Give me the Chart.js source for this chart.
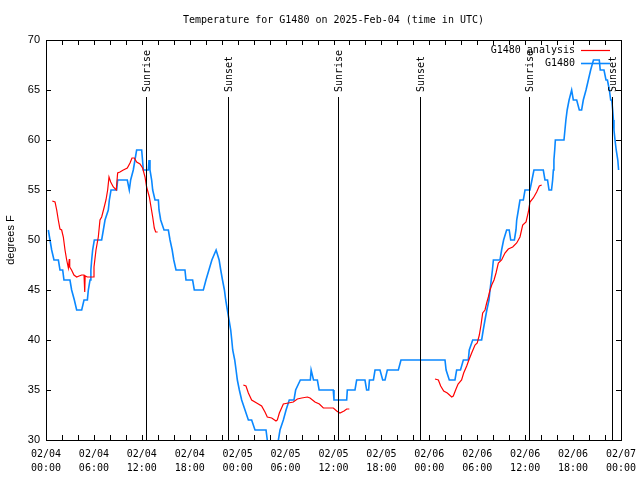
<!DOCTYPE html>
<html>
<head>
<meta charset="utf-8">
<title>Temperature for G1480</title>
<script src="https://cdn.jsdelivr.net/npm/chart.js@4/dist/chart.umd.min.js"></script>
<style>
  html, body { margin: 0; padding: 0; background: #fff; }
  #wrap { width: 640px; height: 480px; }
</style>
</head>
<body>
<div id="wrap"><canvas id="tempChart"></canvas></div>
<script>
// --- Data (hours since 2025-02-04 00:00 UTC) ---
const blueHours = [0.29, 0.5, 0.71, 1.0, 1.55, 1.75, 2.09, 2.25, 3.0, 3.21, 3.55, 3.84, 4.47, 4.76, 5.18, 5.3, 5.51, 5.62, 5.72, 5.84, 6.05,
  6.97, 7.18, 7.39, 7.8, 7.93, 8.14, 8.85, 8.97, 10.18, 10.43, 10.6, 10.93, 11.14, 11.35, 11.98, 12.19, 12.81, 12.9, 13.02, 13.23,
  13.36, 13.65, 14.07, 14.15, 14.36, 14.78, 15.32, 15.53, 15.8, 16.0, 16.28, 17.4, 17.53, 18.36, 18.57, 19.7, 20.03, 20.4, 20.77,
  21.3, 21.68, 21.88, 22.1, 22.34, 22.5, 22.71, 22.92, 23.13, 23.26, 23.38, 23.63, 23.8, 23.96, 24.21, 24.5, 24.92, 25.34, 25.75,
  26.17, 27.55, 27.71, 27.9, 28.9, 29.1, 29.3, 29.72, 30.06, 30.46, 31.05, 31.26, 31.85, 33.1, 33.2, 33.5, 33.98, 34.2, 35.97,
  36.06, 37.65, 37.73, 38.69, 38.9, 39.94, 40.15, 40.4, 40.5, 41.0, 41.2, 41.82, 42.16, 42.45, 42.74, 44.12, 44.45, 49.96, 50.1,
  50.5, 51.21, 51.42, 51.9, 52.26, 52.88, 53.0, 53.43, 54.55, 54.75, 54.97, 55.2, 55.47, 55.6, 55.75, 55.9, 56.02, 56.85, 57.05,
  57.3, 57.68, 58.0, 58.19, 58.65, 58.85, 58.94, 59.15, 59.35, 59.77, 59.98, 60.6, 60.85, 61.1, 62.27, 62.48, 62.8, 62.99, 63.3,
  63.44, 63.53, 63.6, 63.7, 63.78, 64.86, 65.1, 65.26, 65.5, 65.82, 66.03, 66.45, 66.78, 67.07, 67.28, 67.62, 67.91, 68.2, 68.55,
  69.28, 69.4, 69.87, 70.12, 70.3, 70.54, 70.71, 70.84, 70.96, 71.05, 71.12, 71.25, 71.4, 71.6, 71.7];
const blueTemps = [51, 50, 49, 48, 48, 47, 47, 46, 46, 45, 44, 43, 43, 44, 44, 45, 46, 47, 48, 49, 50,
  50, 51, 52, 53, 54, 55, 55, 56, 56, 55, 56, 57, 58, 59, 59, 57, 57, 58, 57, 56,
  55, 54, 54, 53, 52, 51, 51, 50, 49, 48, 47, 47, 46, 46, 45, 45, 46, 47, 48,
  49, 48, 47, 46, 45, 44, 43, 42, 41, 40, 39, 38, 37, 36, 35, 34, 33, 32, 32,
  31, 31, 30, 29, 29, 30, 31, 32, 33, 34, 34, 35, 36, 36, 37, 36, 36, 35, 35,
  34, 34, 35, 35, 36, 36, 35, 35, 36, 36, 37, 37, 36, 36, 37, 37, 38, 38, 37,
  36, 36, 37, 37, 38, 38, 39, 40, 40, 41, 42, 43, 44, 45, 46, 47, 48, 48, 49,
  50, 51, 51, 50, 50, 51, 52, 53, 54, 54, 55, 55, 56, 57, 57, 56, 56, 55, 55,
  56, 57, 58, 59, 60, 60, 62, 63, 64, 65, 64, 64, 63, 63, 64, 65, 66, 67, 68,
  68, 67, 67, 66, 66, 65, 64, 64, 63, 62, 61, 60, 59, 58, 57];

// analysis series, null = gap between runs
const redHours = [0.79, 1.13, 1.34, 1.54, 1.75, 1.96, 2.17, 2.38, 2.59, 2.8, 2.92, 2.97, 3.2, 3.5, 3.84, 4.15, 4.47, 4.76, 4.85,
  4.9, 5.18, 5.59, 5.93, 6.01, 6.26, 6.55, 6.76, 6.97, 7.26, 7.51, 7.72, 7.89, 8.1, 8.43, 8.8, 8.97, 9.26, 9.68, 10.18, 10.52,
  10.77, 11.06, 11.35, 11.77, 12.1, 12.4, 12.6, 12.94, 13.15, 13.36, 13.56, 13.73, 13.98,
  20,
  24.71, 25.04, 25.34, 25.75, 26.38, 27.0, 27.42, 27.71, 28.26, 28.8, 28.97, 29.22, 29.72, 30.35, 30.97, 31.47, 32.02, 32.73,
  33.06, 33.68, 34.23, 34.73, 35.35, 35.98, 36.4, 36.81, 37.32, 37.65, 37.98,
  43,
  48.71, 49.13, 49.42, 49.8, 50.25, 50.8, 51.0, 51.34, 51.6, 52.04, 52.3, 52.68, 52.95, 53.3, 53.72, 54.0, 54.26, 54.47, 54.68,
  54.97, 55.18, 55.39, 55.6, 55.81, 56.1, 56.35, 56.64, 57.05, 57.47, 57.89, 58.44, 58.94, 59.35, 59.69, 60.11, 60.4, 60.6,
  61.02, 61.44, 61.77, 62.07];
const redTemps = [53.9, 53.8, 53.0, 52.0, 51.1, 51.0, 50.3, 49.0, 48.0, 47.2, 48.1, 47.3, 47.0, 46.5, 46.3, 46.4, 46.5, 46.5, 44.8,
  46.4, 46.3, 46.3, 46.3, 47.3, 49.0, 50.3, 52.0, 52.3, 53.2, 54.0, 55.0, 56.3, 55.8, 55.3, 55.0, 56.7, 56.8, 57.0, 57.2, 57.7,
  58.2, 58.2, 57.8, 57.6, 57.2, 56.3, 55.3, 54.3, 53.3, 52.3, 51.2, 50.8, 50.8,
  null,
  35.5, 35.4, 34.7, 34.0, 33.7, 33.4, 32.8, 32.3, 32.2, 31.9, 32.0, 32.7, 33.6, 33.7, 33.8, 34.1, 34.2, 34.3,
  34.2, 33.8, 33.6, 33.2, 33.2, 33.2, 32.9, 32.7, 32.9, 33.1, 33.1,
  null,
  36.1, 36.0, 35.4, 34.9, 34.7, 34.3, 34.4, 35.1, 35.6, 36.0, 36.7, 37.4, 38.0, 38.7, 39.5, 39.7, 40.5, 41.5, 42.7,
  43.0, 43.7, 44.3, 45.0, 45.5, 46.0, 46.7, 47.7, 48.0, 48.7, 49.1, 49.3, 49.7, 50.3, 51.5, 51.8, 52.8, 53.8,
  54.2, 54.8, 55.4, 55.5];

const sunHours = [12.57, 22.83, 36.6, 46.83, 60.53, 70.9];
const sunLabels = ['Sunrise', 'Sunset', 'Sunrise', 'Sunset', 'Sunrise', 'Sunset'];

const dateLabels = ['02/04', '02/04', '02/04', '02/04', '02/05', '02/05', '02/05', '02/05', '02/06', '02/06', '02/06', '02/06', '02/07'];
const timeLabels = ['00:00', '06:00', '12:00', '18:00', '00:00', '06:00', '12:00', '18:00', '00:00', '06:00', '12:00', '18:00', '00:00'];

const MONO = "'DejaVu Sans Mono', monospace";
const SANS = "'Liberation Sans', Arial, sans-serif";

// --- gnuplot-ish frame, inward ticks, sun lines, key ---
const framePlugin = {
    id: 'frame',
    afterDatasetsDraw(chart) {
        const { ctx, chartArea: a, scales } = chart;
        const xs = scales.x, ys = scales.y;
        ctx.save();
        ctx.strokeStyle = '#000';
        ctx.lineWidth = 1;

        // sunrise / sunset markers
        ctx.font = '10px ' + MONO;
        ctx.fillStyle = '#000';
        sunHours.forEach((h, i) => {
            const x = Math.round(xs.getPixelForValue(h)) + 0.5;
            ctx.beginPath();
            ctx.moveTo(x, a.top + 57);
            ctx.lineTo(x, a.bottom);
            ctx.stroke();
            ctx.save();
            ctx.translate(x + 1, a.top + 52);
            ctx.rotate(-Math.PI / 2);
            ctx.textAlign = 'left';
            ctx.textBaseline = 'middle';
            ctx.fillText(sunLabels[i], 0, 0);
            ctx.restore();
        });

        // border box
        ctx.strokeRect(Math.round(a.left) + 0.5, Math.round(a.top) + 0.5,
            Math.round(a.right - a.left), Math.round(a.bottom - a.top));

        // ticks
        ctx.beginPath();
        for (let h = 0; h <= 72; h += 2) {
            const x = Math.round(xs.getPixelForValue(h)) + 0.5;
            ctx.moveTo(x, a.bottom); ctx.lineTo(x, a.bottom - 5);
            ctx.moveTo(x, a.top); ctx.lineTo(x, a.top + 5);
        }
        for (let t = 30; t <= 70; t += 5) {
            const y = Math.round(ys.getPixelForValue(t)) + 0.5;
            ctx.moveTo(a.left, y); ctx.lineTo(a.left + 5, y);
            ctx.moveTo(a.right, y); ctx.lineTo(a.right - 5, y);
        }
        ctx.stroke();

        // key (top right)
        ctx.font = '10px ' + MONO;
        ctx.textAlign = 'right';
        ctx.textBaseline = 'middle';
        chart.data.datasets.forEach((ds, i) => {
            const y = a.top + 10 + i * 13;
            ctx.fillStyle = '#000';
            ctx.fillText(ds.label, a.right - 46, y);
            ctx.strokeStyle = ds.borderColor;
            ctx.lineWidth = ds.borderWidth;
            ctx.beginPath();
            ctx.moveTo(a.right - 40, y + 0.5);
            ctx.lineTo(a.right - 11, y + 0.5);
            ctx.stroke();
        });
        ctx.restore();
    }
};

const ctx = document.getElementById('tempChart').getContext('2d');

new Chart(ctx, {
    type: 'line',
    data: {
        datasets: [{
            label: 'G1480 analysis',
            data: redHours.map((h, i) => ({ x: h, y: redTemps[i] })),
            borderColor: '#ff0000',
            borderWidth: 1.2,
            pointRadius: 0,
            tension: 0,
            spanGaps: false
        }, {
            label: 'G1480',
            data: blueHours.map((h, i) => ({ x: h, y: blueTemps[i] })),
            borderColor: '#0a88ff',
            borderWidth: 1.6,
            pointRadius: 0,
            tension: 0
        }]
    },
    options: {
        responsive: true,
        maintainAspectRatio: false,
        animation: false,
        devicePixelRatio: 1,
        layout: { padding: { left: 0, right: 19, top: 0, bottom: 0 } },
        plugins: {
            legend: { display: false },
            tooltip: { enabled: false },
            title: {
                display: true,
                fullSize: false,
                text: 'Temperature for G1480 on 2025-Feb-04 (time in UTC)',
                color: '#000',
                font: { family: MONO, size: 10, weight: 'normal' },
                padding: { top: 14, bottom: 14 }
            }
        },
        scales: {
            x: {
                type: 'linear',
                min: 0,
                max: 72,
                grid: { display: false, drawTicks: false },
                border: { display: false },
                ticks: {
                    stepSize: 2,
                    autoSkip: false,
                    maxRotation: 0,
                    padding: 7,
                    color: '#000',
                    font: { family: MONO, size: 10, lineHeight: 1.4 },
                    callback: (v) => (v % 6 === 0 ? [dateLabels[v / 6], timeLabels[v / 6]] : '')
                },
                afterFit: (scale) => {
                    scale.height = 40;
                    scale.paddingLeft = 0;
                    scale.paddingRight = 0;
                }
            },
            y: {
                min: 30,
                max: 70,
                grid: { display: false, drawTicks: false },
                border: { display: false },
                ticks: {
                    stepSize: 5,
                    padding: 6,
                    color: '#000',
                    font: { family: SANS, size: 11 }
                },
                title: {
                    display: true,
                    text: 'degrees F',
                    color: '#000',
                    font: { family: SANS, size: 11 },
                    padding: { top: 4, bottom: 0 }
                },
                afterFit: (scale) => { scale.width = 46; }
            }
        }
    },
    plugins: [framePlugin]
});
</script>
</body>
</html>
